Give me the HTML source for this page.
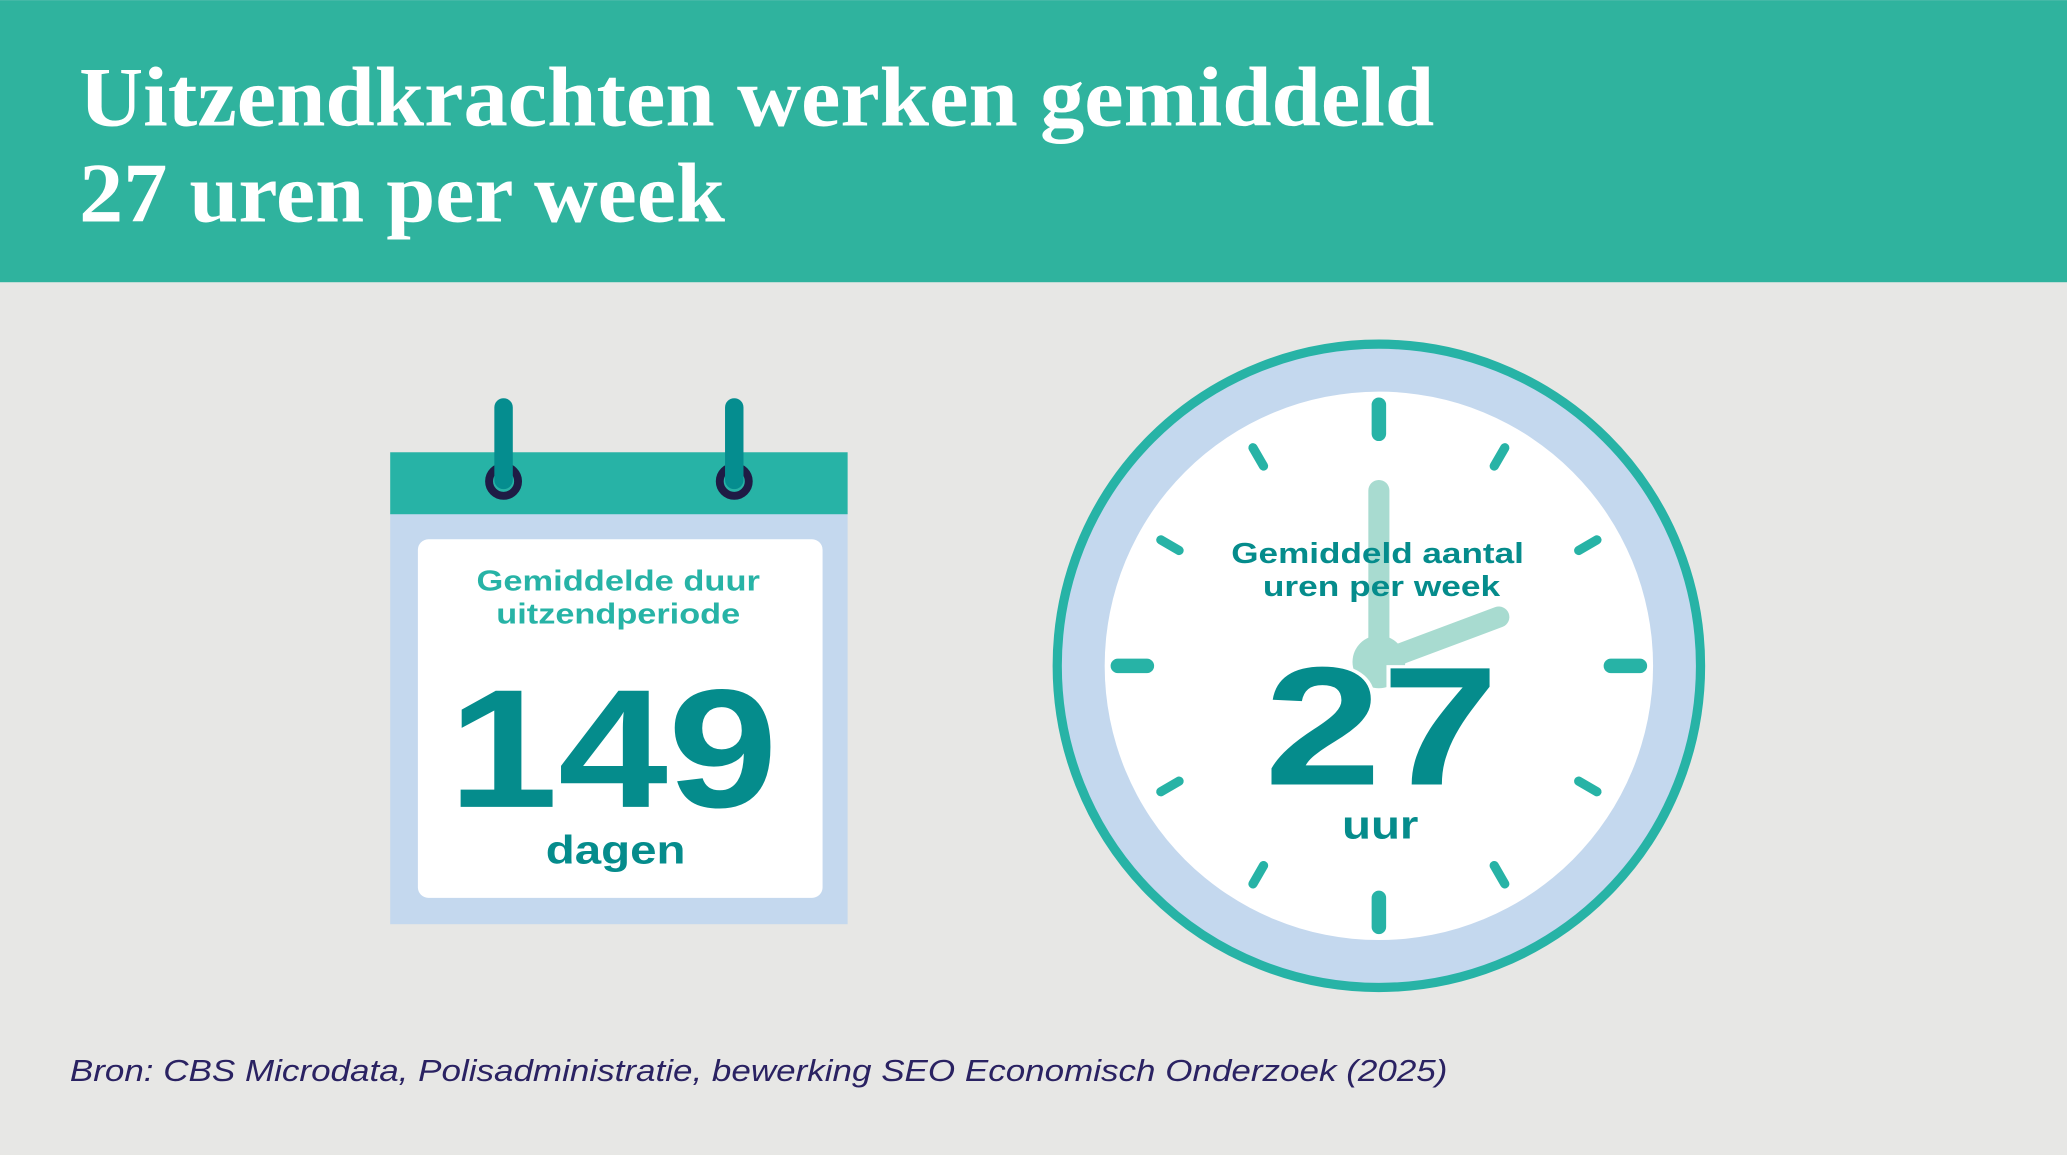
<!DOCTYPE html>
<html><head><meta charset="utf-8"><style>
html,body{margin:0;padding:0;background:#e7e7e5;}
svg{display:block;}
</style></head><body>
<svg width="2067" height="1155" viewBox="0 0 1568 876" xmlns="http://www.w3.org/2000/svg">
<rect x="0" y="0" width="1568" height="876" fill="#e7e7e5"/>
<rect x="0" y="0" width="1568" height="214" fill="#2fb39e"/>
<g font-family="Liberation Serif, serif" font-weight="bold" fill="#fff" font-size="64">
<text x="60" y="95" textLength="1028" lengthAdjust="spacingAndGlyphs">Uitzendkrachten werken gemiddeld</text>
<text x="60" y="168" textLength="490" lengthAdjust="spacingAndGlyphs">27 uren per week</text>
</g>
<!-- calendar -->
<rect x="296" y="389" width="347" height="312" fill="#c4d8ee"/>
<rect x="296" y="343" width="347" height="47" fill="#27b3a6"/>
<rect x="317" y="409" width="307" height="272" rx="8" fill="#fff"/>
<circle cx="382" cy="365" r="11" fill="none" stroke="#1f1b45" stroke-width="6"/>
<circle cx="557" cy="365" r="11" fill="none" stroke="#1f1b45" stroke-width="6"/>
<line x1="382" y1="309" x2="382" y2="364" stroke="#058d8f" stroke-width="14" stroke-linecap="round"/>
<line x1="557" y1="309" x2="557" y2="364" stroke="#058d8f" stroke-width="14" stroke-linecap="round"/>
<g font-family="Liberation Sans, sans-serif" font-weight="bold" text-anchor="middle">
<text x="469" y="448" font-size="22" fill="#27b3a6" textLength="215" lengthAdjust="spacingAndGlyphs">Gemiddelde duur</text>
<text x="469" y="473" font-size="22" fill="#27b3a6" textLength="185" lengthAdjust="spacingAndGlyphs">uitzendperiode</text>
<text x="465" y="612" font-size="128" fill="#058c8c" textLength="250" lengthAdjust="spacingAndGlyphs">149</text>
<text x="467" y="655" font-size="30" fill="#058c8c" textLength="106" lengthAdjust="spacingAndGlyphs">dagen</text>
</g>
<!-- clock -->
<circle cx="1046" cy="505" r="244" fill="#c4d8ee" stroke="#27b3a6" stroke-width="7"/>
<circle cx="1046" cy="505" r="208" fill="#fff"/>
<g stroke="#27b3a6" stroke-linecap="round" transform="translate(1046,505)">
<g stroke-width="11">
<line x1="0" y1="-176" x2="0" y2="-198"/>
<line x1="0" y1="176" x2="0" y2="198"/>
<line x1="-176" y1="0" x2="-198" y2="0"/>
<line x1="176" y1="0" x2="198" y2="0"/>
</g>
<g stroke-width="7">
<line x1="0" y1="-175" x2="0" y2="-191" transform="rotate(30)"/>
<line x1="0" y1="-175" x2="0" y2="-191" transform="rotate(60)"/>
<line x1="0" y1="-175" x2="0" y2="-191" transform="rotate(120)"/>
<line x1="0" y1="-175" x2="0" y2="-191" transform="rotate(150)"/>
<line x1="0" y1="-175" x2="0" y2="-191" transform="rotate(210)"/>
<line x1="0" y1="-175" x2="0" y2="-191" transform="rotate(240)"/>
<line x1="0" y1="-175" x2="0" y2="-191" transform="rotate(300)"/>
<line x1="0" y1="-175" x2="0" y2="-191" transform="rotate(330)"/>
</g>
</g>
<g stroke="#a8dbd0" stroke-linecap="round" stroke-width="16">
<line x1="1046" y1="372" x2="1046" y2="500"/>
<line x1="1046" y1="502" x2="1137" y2="468"/>
</g>
<circle cx="1046" cy="502" r="20" fill="#a8dbd0"/>
<g font-family="Liberation Sans, sans-serif" font-weight="bold" text-anchor="middle" fill="#058c8c">
<text x="1045" y="427" font-size="22" textLength="222" lengthAdjust="spacingAndGlyphs">Gemiddeld aantal</text>
<text x="1048" y="452" font-size="22" textLength="180" lengthAdjust="spacingAndGlyphs">uren per week</text>
<text x="1048" y="595" font-size="128" stroke="#fff" stroke-width="5" paint-order="stroke" textLength="178" lengthAdjust="spacingAndGlyphs">27</text>
<text x="1047" y="636" font-size="30" textLength="58" lengthAdjust="spacingAndGlyphs">uur</text>
</g>
<text x="53" y="820" font-family="Liberation Sans, sans-serif" font-style="italic" font-size="23" fill="#2a2262" textLength="1045" lengthAdjust="spacingAndGlyphs">Bron: CBS Microdata, Polisadministratie, bewerking SEO Economisch Onderzoek (2025)</text>
</svg>
</body></html>
